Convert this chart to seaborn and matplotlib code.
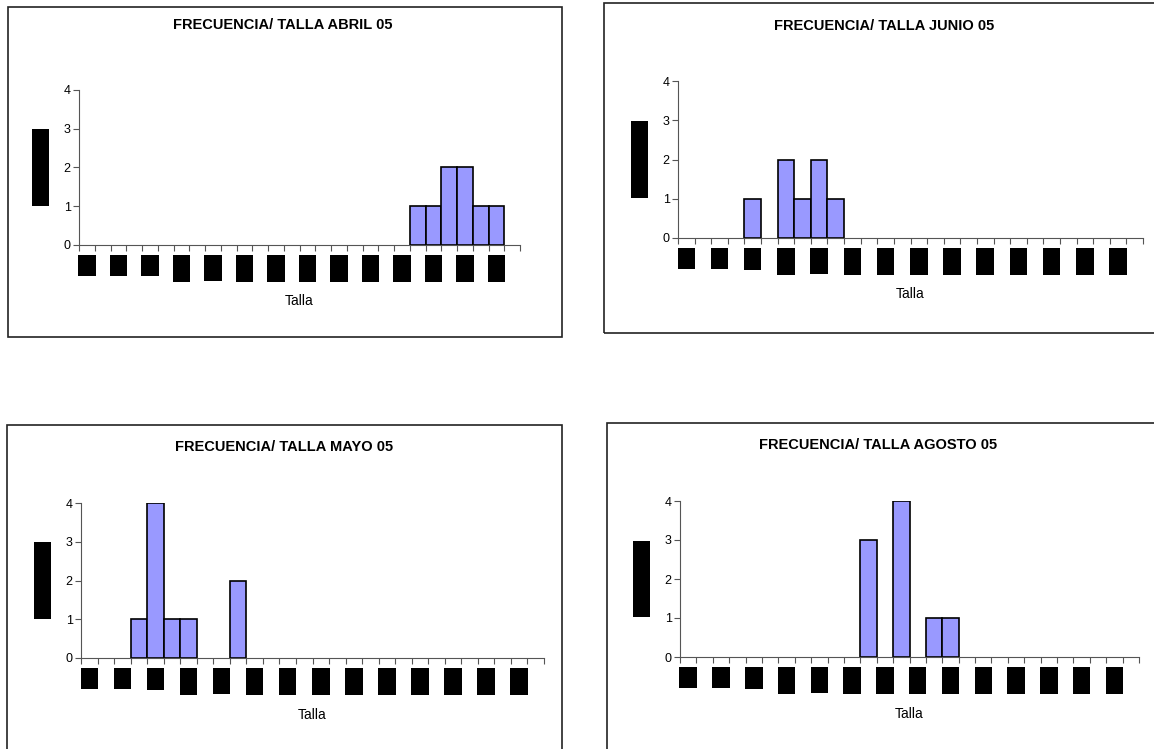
import numpy as np
import pandas as pd
import matplotlib
matplotlib.use("Agg")
import matplotlib.pyplot as plt
from matplotlib.patches import Rectangle
import seaborn as sns

# ---------------- data ----------------
bins = list(range(28))
talla_labels = ["7,0", "8,0", "9,0", "10,0", "11,0", "12,0", "13,0",
                "14,0", "15,0", "16,0", "17,0", "18,0", "19,0", "20,0"]

abril = [0, 0, 0, 0, 0, 0, 0, 0, 0, 0, 0, 0, 0, 0,
         0, 0, 0, 0, 0, 0, 0, 1, 1, 2, 2, 1, 1, 0]
junio = [0, 0, 0, 0, 1, 0, 2, 1, 2, 1, 0, 0, 0, 0,
         0, 0, 0, 0, 0, 0, 0, 0, 0, 0, 0, 0, 0, 0]
mayo = [0, 0, 0, 1, 4, 1, 1, 0, 0, 2, 0, 0, 0, 0,
        0, 0, 0, 0, 0, 0, 0, 0, 0, 0, 0, 0, 0, 0]
agosto = [0, 0, 0, 0, 0, 0, 0, 0, 0, 0, 0, 3, 0, 4,
          0, 1, 1, 0, 0, 0, 0, 0, 0, 0, 0, 0, 0, 0]

titles = ["FRECUENCIA/ TALLA ABRIL 05", "FRECUENCIA/ TALLA JUNIO 05",
          "FRECUENCIA/ TALLA MAYO 05", "FRECUENCIA/ TALLA AGOSTO 05"]
y_ticks = [0, 1, 2, 3, 4]
x_title = "Talla"
y_title = "Frecuencia"

# ---------------- style ----------------
sns.set_theme(style="white")
plt.rcParams["font.family"] = ["Liberation Sans", "DejaVu Sans"]

W, H = 1154, 749
BAR = "#9999FF"
AX_COL = "#555555"

fig = plt.figure(figsize=(W / 100, H / 100), dpi=100)
fig.patch.set_facecolor("white")


def fx(x):
    return x / W


def fy(y):
    return 1 - y / H


# layout in pixels: (axes left, right, y of 0, y of 4), box, title centre, talla top, ylabel centre x
panels = [
    dict(vals=abril, title=titles[0], ax=(79, 520, 245, 90), box=(8, 7, 562, 337),
         tc=(283, 25), talla_top=294, ylab_x=40.5),
    dict(vals=junio, title=titles[1], ax=(678, 1143, 238, 81), box=(604, 3, 1170, 333),
         tc=(884, 26), talla_top=287, ylab_x=639.5),
    dict(vals=mayo, title=titles[2], ax=(81, 544, 658, 503), box=(7, 425, 562, 770),
         tc=(284, 447), talla_top=708, ylab_x=42.5),
    dict(vals=agosto, title=titles[3], ax=(680, 1139, 657, 501), box=(607, 423, 1170, 770),
         tc=(878, 445), talla_top=707, ylab_x=641.5),
]

for p in panels:
    l, r, y0, y4 = p["ax"]
    ax = fig.add_axes([fx(l), fy(y0), (r - l) / W, (y0 - y4) / H])
    df = pd.DataFrame({"bin": bins, "n": p["vals"]})
    sns.barplot(data=df, x="bin", y="n", ax=ax, width=1.0, color=BAR,
                saturation=1, edgecolor="black", linewidth=1.2, errorbar=None)
    for patch in ax.patches:
        if patch.get_height() == 0:
            patch.set_visible(False)
    n = len(p["vals"])
    ax.set_xlim(-0.5, n - 0.5)
    ax.set_ylim(0, 4)
    ax.set_yticks(y_ticks)
    ax.set_yticklabels([str(v) for v in y_ticks], fontsize=9, color="black")
    ax.set_xticks(np.arange(n + 1) - 0.5)
    ax.set_xticklabels([])
    ax.set_xticks(bins[::2], minor=True)
    ax.set_xticklabels(talla_labels, minor=True, rotation=90, fontsize=7.2, color="black")
    ax.tick_params(axis="x", which="major", length=4, width=0.8, color=AX_COL, direction="out", bottom=True)
    ax.tick_params(axis="x", which="minor", length=0, pad=9.9, bottom=True)
    ax.tick_params(axis="y", length=4, width=0.8, color=AX_COL, direction="out", left=True, pad=2)
    for t in ax.get_xticklabels(minor=True):
        t.set_bbox(dict(boxstyle="square,pad=0.375", fc="black", ec="none"))
    for s in ["top", "right"]:
        ax.spines[s].set_visible(False)
    for s in ["left", "bottom"]:
        ax.spines[s].set_color(AX_COL)
        ax.spines[s].set_linewidth(0.8)
    ax.set_facecolor("none")
    ax.set_xlabel(x_title, fontsize=10, color="black")
    ax.xaxis.label.set_va("top")
    ax.xaxis.set_label_coords(0.5, -(p["talla_top"] - y0) / (y0 - y4))
    ax.set_ylabel(y_title, fontsize=10.5, color="black",
                  bbox=dict(boxstyle="square,pad=0.12", fc="black", ec="none"))
    ax.yaxis.label.set_va("center")
    ax.yaxis.set_label_coords((p["ylab_x"] - l) / (r - l), 0.5)

    bx0, by0, bx1, by1 = p["box"]
    fig.patches.append(Rectangle((fx(bx0), fy(by1)), (bx1 - bx0) / W, (by1 - by0) / H,
                                 transform=fig.transFigure, fill=False,
                                 ec="#222222", lw=1.2, zorder=0))
    fig.text(fx(p["tc"][0]), fy(p["tc"][1]), p["title"], ha="center", va="center",
             fontsize=10.5, fontweight="bold", color="black")

fig.savefig("out.png", dpi=100, facecolor="white")
